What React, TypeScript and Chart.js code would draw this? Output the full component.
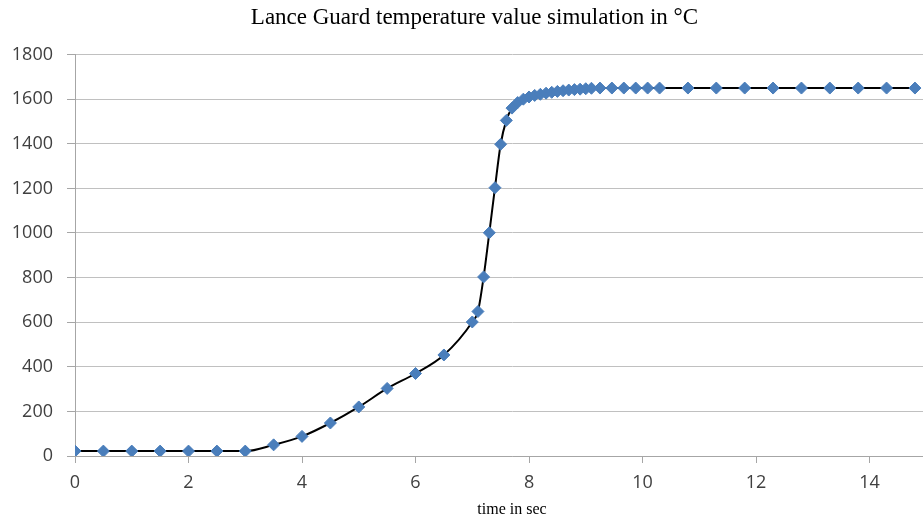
import React, { useEffect, useRef } from 'react';
import { Chart, registerables } from 'chart.js';

Chart.register(...registerables);

const chartTitle = 'Lance Guard temperature value simulation in °C';
const xAxisTitle = 'time in sec';

const timeSec = [
  0, 0.5, 1, 1.5, 2, 2.5, 3, 3.5, 4, 4.5, 5, 5.5, 6, 6.5, 7, 7.1, 7.2, 7.3, 7.4, 7.5, 7.6,
  7.7, 7.8, 7.9, 8.0, 8.1, 8.2, 8.3, 8.4, 8.5, 8.6, 8.7, 8.8, 8.9, 9.0, 9.1,
  9.25, 9.46, 9.67, 9.88, 10.09, 10.3, 10.8, 11.3, 11.8, 12.3, 12.8, 13.3, 13.8, 14.3, 14.8,
];

const temperatureC = [
  22, 22, 22, 22, 22, 22, 22, 50, 88, 148, 220, 303, 370, 453, 601, 648, 803, 1001, 1203, 1398, 1505,
  1560, 1585, 1600, 1610, 1617, 1622, 1627, 1631, 1635, 1638, 1641, 1643, 1645, 1647, 1649,
  1650, 1650, 1650, 1650, 1650, 1650, 1650, 1650, 1650, 1650, 1650, 1650, 1650, 1650, 1650,
];

const xTickValues = [0, 2, 4, 6, 8, 10, 12, 14];
const yTickValues = [0, 200, 400, 600, 800, 1000, 1200, 1400, 1600, 1800];

export default function App() {
  const canvasRef = useRef<HTMLCanvasElement | null>(null);

  useEffect(() => {
    const canvas = canvasRef.current;
    if (!canvas) return;
    const points = timeSec.map((t, i) => ({ x: t, y: temperatureC[i] }));
    const chart = new Chart(canvas, {
      type: 'line',
      data: {
        datasets: [
          {
            data: points,
            borderColor: '#000000',
            borderWidth: 2,
            cubicInterpolationMode: 'monotone',
            pointStyle: 'rectRot',
            pointRadius: 6,
            pointBackgroundColor: '#4a7ebb',
            pointBorderColor: '#4a7ebb',
            pointBorderWidth: 1,
            fill: false,
          },
        ],
      },
      options: {
        responsive: false,
        animation: false,
        layout: { padding: { left: 0, right: 7, top: 0, bottom: 0 } },
        plugins: {
          legend: { display: false },
          tooltip: { enabled: false },
          title: {
            display: true,
            text: chartTitle,
            color: '#000000',
            font: { family: 'Liberation Serif', size: 23, weight: 'normal' },
            padding: { top: 4, bottom: 23 },
          },
        },
        scales: {
          x: {
            type: 'linear',
            min: 0,
            max: 15.4,
            afterBuildTicks: (scale: any) => {
              scale.ticks = xTickValues.map((v) => ({ value: v }));
            },
            afterFit: (scale: any) => {
              scale.height = 64;
            },
            grid: {
              drawOnChartArea: false,
              drawTicks: true,
              tickLength: 7,
              color: '#a6a6a6',
            },
            border: { color: '#a6a6a6', width: 1 },
            ticks: {
              color: '#404040',
              padding: 9,
              maxRotation: 0,
              font: { family: 'Open Sans', size: 18 },
              callback: (v: any) => String(v),
            },
            title: {
              display: true,
              text: xAxisTitle,
              color: '#000000',
              font: { family: 'Liberation Serif', size: 16 },
              padding: { top: 0, bottom: 1 },
            },
          },
          y: {
            type: 'linear',
            min: 0,
            max: 1800,
            afterBuildTicks: (scale: any) => {
              scale.ticks = yTickValues.map((v) => ({ value: v }));
            },
            afterFit: (scale: any) => {
              scale.width = 75;
            },
            grid: {
              color: '#c0c0c0',
              lineWidth: 1,
              drawTicks: true,
              tickLength: 8,
              tickColor: '#a6a6a6',
            },
            border: { color: '#a6a6a6', width: 1 },
            ticks: {
              color: '#404040',
              padding: 14,
              font: { family: 'Open Sans', size: 18 },
              callback: (v: any) => String(v),
            },
          },
        },
      },
    });
    return () => chart.destroy();
  }, []);

  return (
    <div
      style={{
        position: 'fixed',
        left: 0,
        top: 0,
        width: 923,
        height: 520,
        overflow: 'hidden',
        background: '#ffffff',
      }}
    >
      <canvas ref={canvasRef} width={956} height={520} style={{ display: 'block', width: 956, height: 520 }} />
    </div>
  );
}
